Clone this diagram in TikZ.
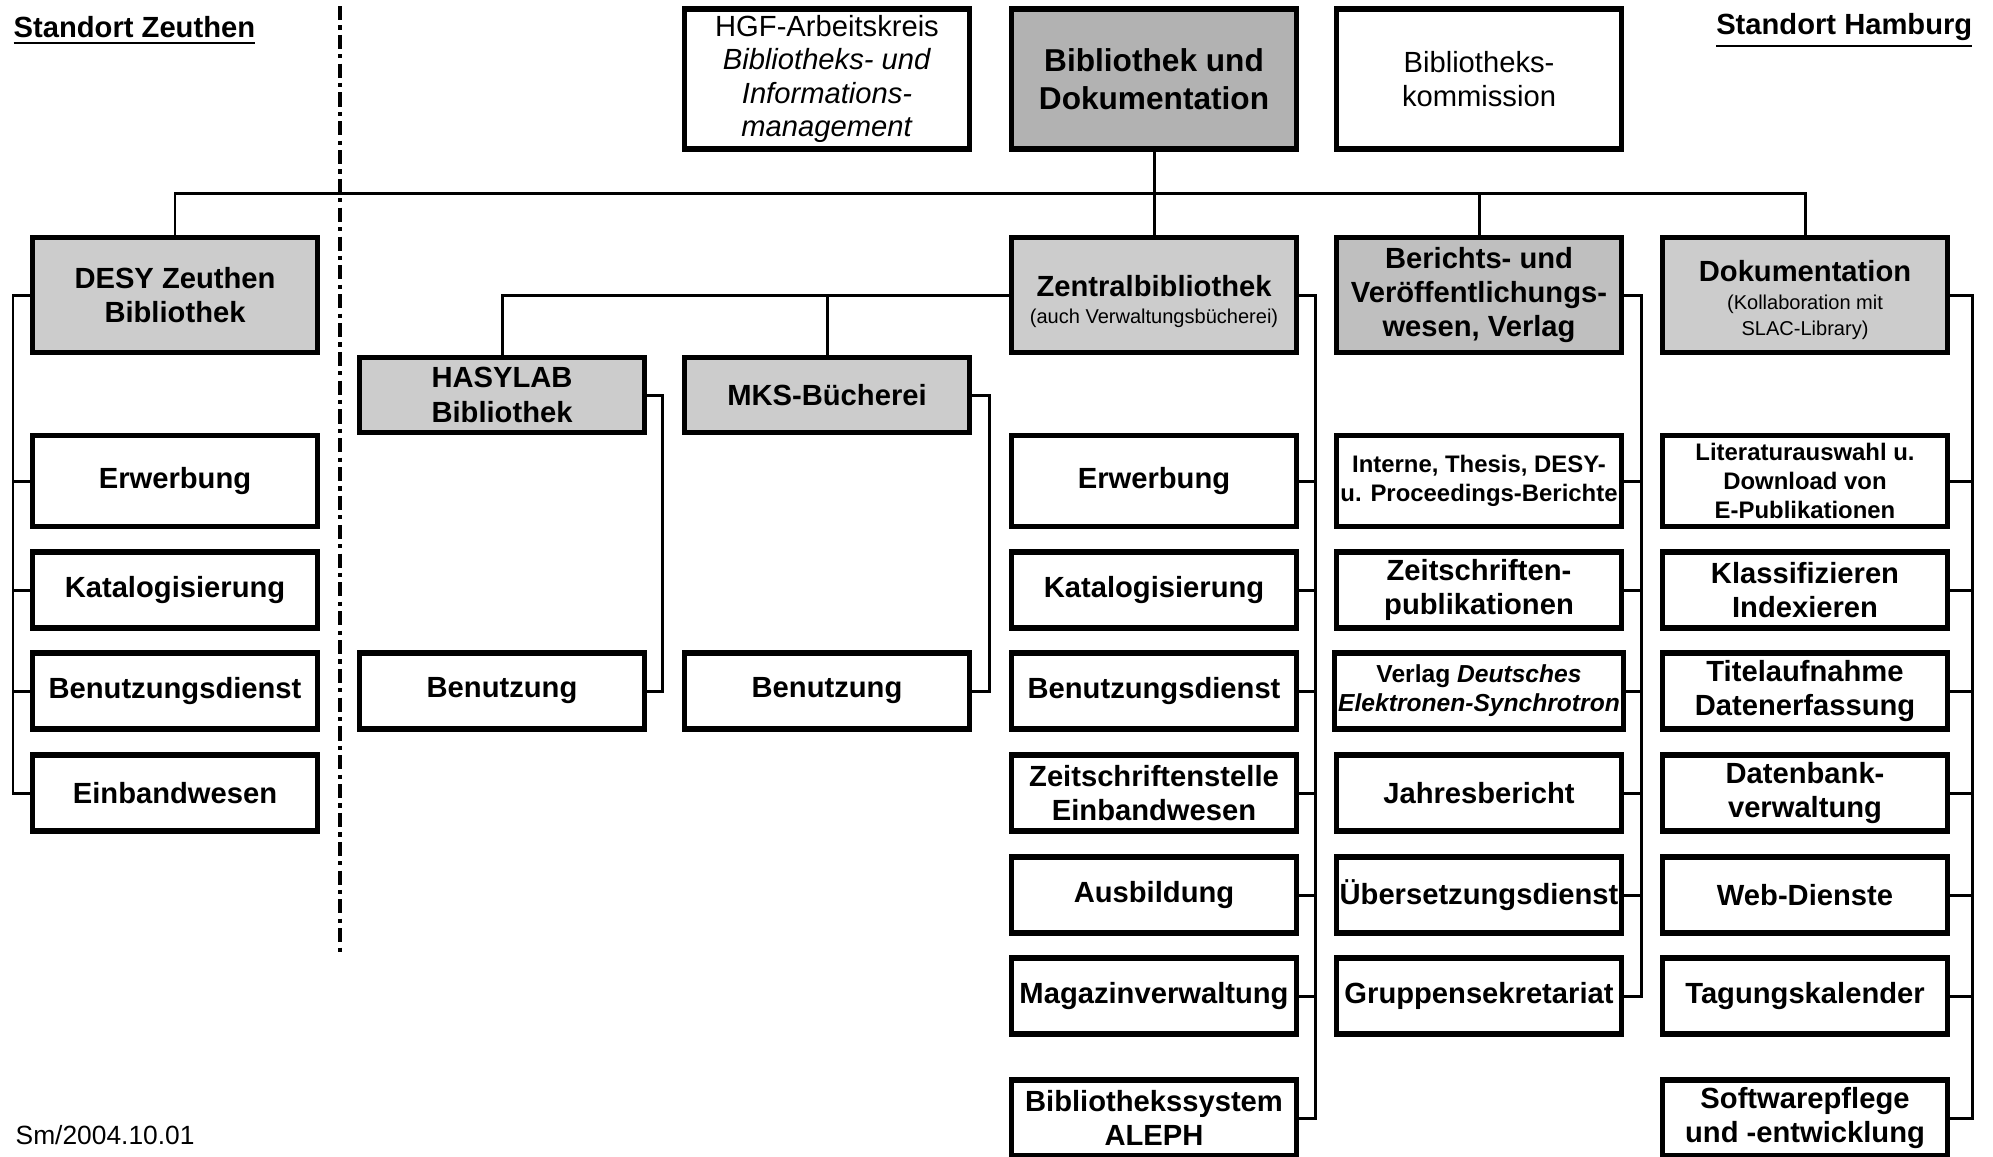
\documentclass[tikz,border=0pt]{standalone}
\usepackage{fontspec}
\setmainfont{Liberation Sans}
\newcommand{\klein}{\fontsize{5.7}{7.2}\selectfont\mdseries}
\tikzset{
    BX/.style ={rectangle, draw, line width=1.45pt, minimum width=28.5mm, minimum height=7.6mm, inner sep=1pt, align=center, font=\fontsize{8.3}{9.8}\selectfont\bfseries},
    BX1/.style ={BX, minimum height=9.1mm},
    BS/.style ={BX1, font=\fontsize{6.8}{8.2}\selectfont\bfseries},
    HD/.style ={BX, fill=black!20, minimum height=11.5mm},
    HD2/.style ={BX, fill=black!20, minimum height=7.5mm},
    TP/.style ={BX, minimum height=14mm, font=\fontsize{8.3}{9.5}\selectfont},
    LN/.style ={line width=0.85pt},
    TX/.style ={inner sep=0pt, font=\fontsize{8.3}{10}\selectfont\bfseries}}

\begin{document}
\begin{tikzpicture}[x=0.1mm, y=-0.1mm]
        \useasboundingbox (0,0) rectangle (1993,1156);
        \node[TX, anchor=west] (sz) at (13,31) {\underline{Standort Zeuthen}};
        \node[TX, anchor=east] (sh) at (1973,31) {\underline{Standort Hamburg}};
        \node[TX, anchor=west, font=\fontsize{7.5}{9}\selectfont] (dat) at (15,1135) {Sm/2004.10.01};
        \draw[line width=1pt, dash pattern=on 4pt off 1.5pt on 1.2pt off 1.5pt] (340,6) -- (340,953);
        \node[TP] (hgf) at (827,79) {HGF-Arbeitskreis\\\textit{Bibliotheks- und}\\\textit{Informations-}\\\textit{management}};
        \node[TP, fill=black!30, font=\fontsize{9}{10.8}\selectfont\bfseries] (bud) at (1154,79) {Bibliothek und\\Dokumentation};
        \node[TP] (bk) at (1479,79) {Bibliotheks-\\kommission};
        \node[HD] (zh) at (175,295) {DESY Zeuthen\\Bibliothek};
        \node[HD] (zb) at (1154,295) {\rule{0pt}{9.6pt}Zentralbibliothek\\[-2pt]{\klein (auch Verwaltungsbücherei)}};
        \node[HD, fill=black!25] (bv) at (1479,295) {Berichts- und\\Veröffentlichungs-\\wesen, Verlag};
        \node[HD] (dk) at (1805,295) {\rule{0pt}{8.9pt}Dokumentation\\[-2pt]{\klein (Kollaboration mit}\\[-2.4pt]{\klein SLAC-Library)}};
        \node[HD2] (ha) at (502,395) {HASYLAB\\Bibliothek};
        \node[HD2] (mk) at (827,395) {MKS-Bücherei};
        \node[BX1] (ze1) at (175,481) {Erwerbung};
        \node[BX] (ze2) at (175,590) {Katalogisierung};
        \node[BX] (ze3) at (175,691) {Benutzungsdienst};
        \node[BX] (ze4) at (175,793) {Einbandwesen};
        \node[BX] (hb) at (502,691) {Benutzung};
        \node[BX] (mb) at (827,691) {Benutzung};
        \node[BX1] (zr1) at (1154,481) {Erwerbung};
        \node[BX] (zr2) at (1154,590) {Katalogisierung};
        \node[BX] (zr3) at (1154,691) {Benutzungsdienst};
        \node[BX] (zr4) at (1154,793) {Zeitschriftenstelle\\Einbandwesen};
        \node[BX] (zr5) at (1154,895) {Ausbildung};
        \node[BX] (zr6) at (1154,996) {Magazinverwaltung};
        \node[BX] (zr7) at (1154,1118) {Bibliothekssystem\\ALEPH};
        \node[BS] (bv1) at (1479,481) {Interne, Thesis, DESY-\\u. Proceedings-Berichte};
        \node[BX] (bv2) at (1479,590) {Zeitschriften-\\publikationen};
        \node[BX, font=\fontsize{7}{8.3}\selectfont\bfseries] (bv3) at (1479,691) {Verlag \textit{Deutsches}\\\textit{Elektronen-Synchrotron}};
        \node[BX] (bv4) at (1479,793) {Jahresbericht};
        \node[BX] (bv5) at (1479,895) {Übersetzungsdienst};
        \node[BX] (bv6) at (1479,996) {Gruppensekretariat};
        \node[BS] (dk1) at (1805,481) {Literaturauswahl u.\\Download von\\E-Publikationen};
        \node[BX] (dk2) at (1805,590) {Klassifizieren\\Indexieren};
        \node[BX] (dk3) at (1805,691) {Titelaufnahme\\Datenerfassung};
        \node[BX] (dk4) at (1805,793) {Datenbank-\\verwaltung};
        \node[BX] (dk5) at (1805,895) {Web-Dienste};
        \node[BX] (dk6) at (1805,996) {Tagungskalender};
        \node[BX] (dk7) at (1805,1118) {Softwarepflege\\und -entwicklung};
        \coordinate (bus) at (0,193);
        \coordinate (zs) at (13,0);
        \coordinate (hs) at (662,0);
        \coordinate (ms) at (989,0);
        \coordinate (zbs) at (1315,0);
        \coordinate (bvs) at (1641,0);
        \coordinate (dks) at (1972,0);
        \draw[LN] (bud) -- (zb);
        \draw[LN] (zh) |- (bus -| dk) -- (dk);
        \draw[LN] (bus -| bv) -- (bv);
        \draw[LN] (zb.west) -| (ha);
        \draw[LN] (mk |- zb.west) -- (mk);
        \draw[LN] (zh.west) -| (zs |- ze4) -- (ze4.west);
        \draw[LN] (ze1.west) -- (ze1.west -| zs);
        \draw[LN] (ze2.west) -- (ze2.west -| zs);
        \draw[LN] (ze3.west) -- (ze3.west -| zs);
        \draw[LN] (ha.east) -| (hs |- hb) -- (hb.east);
        \draw[LN] (mk.east) -| (ms |- mb) -- (mb.east);
        \draw[LN] (zb.east) -| (zbs |- zr7) -- (zr7.east);
        \draw[LN] (zr1.east) -- (zr1.east -| zbs);
        \draw[LN] (zr2.east) -- (zr2.east -| zbs);
        \draw[LN] (zr3.east) -- (zr3.east -| zbs);
        \draw[LN] (zr4.east) -- (zr4.east -| zbs);
        \draw[LN] (zr5.east) -- (zr5.east -| zbs);
        \draw[LN] (zr6.east) -- (zr6.east -| zbs);
        \draw[LN] (bv.east) -| (bvs |- bv6) -- (bv6.east);
        \draw[LN] (bv1.east) -- (bv1.east -| bvs);
        \draw[LN] (bv2.east) -- (bv2.east -| bvs);
        \draw[LN] (bv3.east) -- (bv3.east -| bvs);
        \draw[LN] (bv4.east) -- (bv4.east -| bvs);
        \draw[LN] (bv5.east) -- (bv5.east -| bvs);
        \draw[LN] (dk.east) -| (dks |- dk7) -- (dk7.east);
        \draw[LN] (dk1.east) -- (dk1.east -| dks);
        \draw[LN] (dk2.east) -- (dk2.east -| dks);
        \draw[LN] (dk3.east) -- (dk3.east -| dks);
        \draw[LN] (dk4.east) -- (dk4.east -| dks);
        \draw[LN] (dk5.east) -- (dk5.east -| dks);
        \draw[LN] (dk6.east) -- (dk6.east -| dks);
    \end{tikzpicture}
\end{document}
